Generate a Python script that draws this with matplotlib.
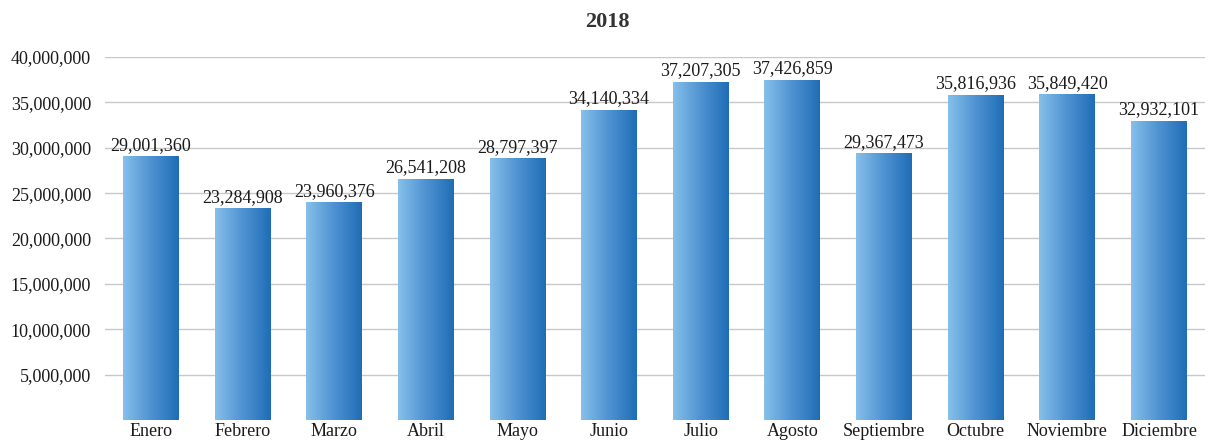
import numpy as np
import matplotlib
matplotlib.use('Agg')
import matplotlib.pyplot as plt
from matplotlib.colors import LinearSegmentedColormap
from matplotlib.ticker import FuncFormatter

# Monthly values, 2018
meses = ['Enero', 'Febrero', 'Marzo', 'Abril', 'Mayo', 'Junio', 'Julio',
         'Agosto', 'Septiembre', 'Octubre', 'Noviembre', 'Diciembre']
valores = [29001360, 23284908, 23960376, 26541208, 28797397, 34140334,
           37207305, 37426859, 29367473, 35816936, 35849420, 32932101]
titulo = '2018'
yticks = [5000000, 10000000, 15000000, 20000000, 25000000,
          30000000, 35000000, 40000000]

plt.rcParams['font.family'] = ['Liberation Serif', 'DejaVu Serif']

fig = plt.figure(figsize=(12.14, 4.42), dpi=100)
ax = fig.add_axes([0.0865, 0.05, 0.906, 0.821])

x = np.arange(len(meses))
bars = ax.bar(x, valores, width=0.61, color='none', edgecolor='none', zorder=2)

# horizontal gradient inside each bar (light left -> dark right)
cmap = LinearSegmentedColormap.from_list('azul', ['#86c0ea', '#4f92d2', '#1f6db6'])
grad = np.linspace(0, 1, 256).reshape(1, -1)
for b in bars:
    x0, w, h = b.get_x(), b.get_width(), b.get_height()
    ax.imshow(grad, cmap=cmap, aspect='auto', extent=(x0, x0 + w, 0, h),
              zorder=2, interpolation='bilinear')

for xi, v in zip(x, valores):
    ax.annotate(f'{v:,}', (xi, v), xytext=(0, 2), textcoords='offset points',
                ha='center', va='bottom', fontsize=13, color='#1a1a1a')

ax.set_xlim(-0.5, len(meses) - 0.5)
ax.set_ylim(0, 40000000)
ax.set_yticks(yticks)
ax.yaxis.set_major_formatter(FuncFormatter(lambda v, p: f'{int(v):,}'))
ax.set_xticks(x)
ax.set_xticklabels(meses)
ax.tick_params(axis='both', length=0, labelsize=13, colors='#1a1a1a')
ax.tick_params(axis='y', pad=10)
ax.tick_params(axis='x', pad=2)
ax.grid(axis='y', color='#c8c8c8', linewidth=1, zorder=0)
ax.set_axisbelow(True)
for s in ax.spines.values():
    s.set_visible(False)

fig.text(0.5, 0.95, titulo, ha='center', va='center', fontsize=16,
         fontweight='bold', color='#333333')

fig.savefig('out.png', dpi=100)
